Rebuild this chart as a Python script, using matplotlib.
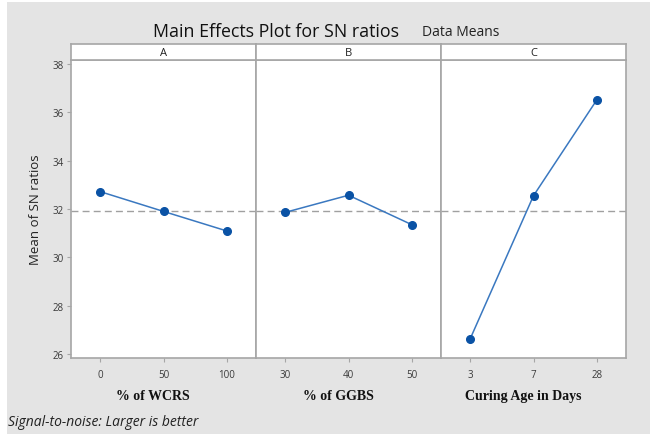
import matplotlib
matplotlib.use("Agg")
import matplotlib.pyplot as plt
from matplotlib.patches import Rectangle

factors = ["A", "B", "C"]
levels_A = ["0", "50", "100"]
levels_B = ["30", "40", "50"]
levels_C = ["3", "7", "28"]
sn_A = [32.72, 31.90, 31.09]
sn_B = [31.86, 32.57, 31.35]
sn_C = [26.62, 32.55, 36.52]
xlabels = ["% of WCRS", "% of GGBS", "Curing Age in Days"]
yticks = [26, 28, 30, 32, 34, 36, 38]

levels = [levels_A, levels_B, levels_C]
values = [sn_A, sn_B, sn_C]
grand_mean = sum(sn_A + sn_B + sn_C) / 9.0

W, H = 650, 435
fig = plt.figure(figsize=(W / 100, H / 100), dpi=100)
fig.patch.set_facecolor("white")
fig.add_artist(Rectangle((7 / W, 0), 1 - 7 / W, 1 - 3 / H, transform=fig.transFigure,
                         facecolor="#e4e4e4", edgecolor="none", zorder=-10))

left_px, right_px = 71, 626
top_px, bot_px = 61, 359
strip_top = 45
pw = (right_px - left_px) / 3
spine_c = "#a6a6a6"
font = "Open Sans"

for i in range(3):
    x0 = (left_px + i * pw) / W
    ax = fig.add_axes([x0, 1 - bot_px / H, pw / W, (bot_px - top_px) / H])
    ax.set_facecolor("white")
    xs = [1, 2, 3]
    ax.axhline(grand_mean, color="#a0a0a0", lw=1.0, ls=(0, (5, 3)), zorder=1)
    ax.plot(xs, values[i], color="#3a78c0", lw=1.1, zorder=2)
    ax.plot(xs, values[i], ls="none", marker="o", ms=5.5, color="#0a52a5", zorder=3)
    ax.set_xlim(0.54, 3.46)
    ax.set_ylim(25.83, 38.17)
    ax.set_xticks(xs)
    ax.set_xticklabels(levels[i], fontsize=7, color="#3a3a3a", family=font)
    ax.set_yticks(yticks)
    if i == 0:
        ax.set_yticklabels([str(t) for t in yticks], fontsize=7, color="#3a3a3a", family=font)
        ax.tick_params(axis="y", length=3, color=spine_c, width=0.8, pad=2)
    else:
        ax.tick_params(axis="y", length=0, labelleft=False)
    ax.tick_params(axis="x", length=3, color=spine_c, width=0.8, pad=5)
    for s in ax.spines.values():
        s.set_color(spine_c)
        s.set_linewidth(1.2)
    ax.set_xlabel(xlabels[i], family="Liberation Serif", fontweight="bold",
                  fontsize=10, color="#111111")
    ax.xaxis.set_label_coords(0.445, -0.105)
    if i == 0:
        ax.set_ylabel("Mean of SN ratios", family=font, fontsize=9.5, labelpad=8,
                      color="#222222")
    # strip
    sax = fig.add_axes([x0, 1 - top_px / H, pw / W, (top_px - strip_top) / H])
    sax.set_facecolor("white")
    sax.set_xticks([])
    sax.set_yticks([])
    for s in sax.spines.values():
        s.set_color(spine_c)
        s.set_linewidth(1.2)
    sax.text(0.5, 0.45, factors[i], ha="center", va="center", fontsize=8,
             family=font, color="#222222", transform=sax.transAxes)

fig.text(276 / W, 1 - 32 / H, "Main Effects Plot for SN ratios", ha="center", va="center",
         fontsize=12.8, family=font, color="#111111")
fig.text(422 / W, 1 - 33 / H, "Data Means", ha="left", va="center",
         fontsize=10, family=font, color="#222222")
fig.text(8 / W, 1 - 423 / H, "Signal-to-noise: Larger is better", ha="left", va="center",
         fontsize=10, family=font, style="italic", color="#222222")

fig.savefig("out.png", dpi=100, facecolor=fig.get_facecolor())
